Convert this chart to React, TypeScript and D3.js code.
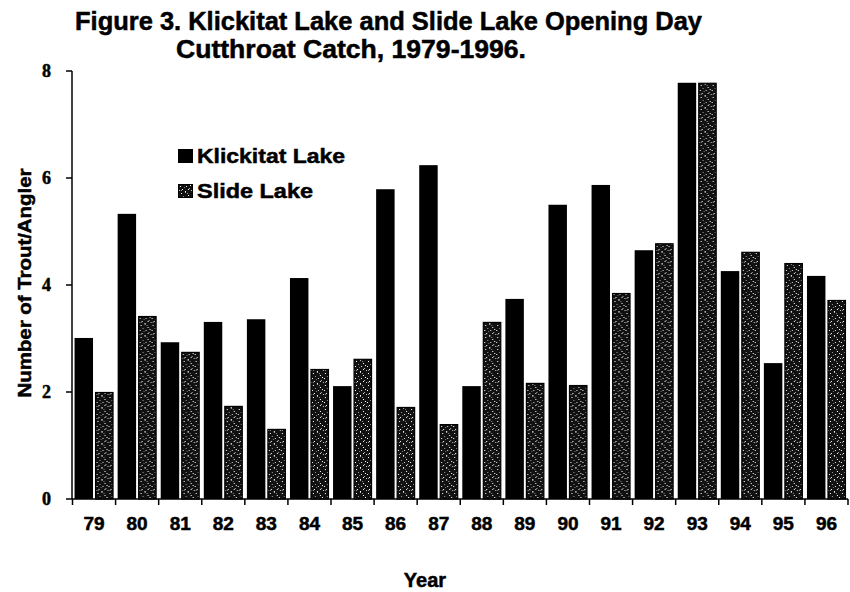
import React from "react";
import * as d3 from "d3";

const years = ["79", "80", "81", "82", "83", "84", "85", "86", "87", "88", "89", "90", "91", "92", "93", "94", "95", "96"];
const klickitat = [3.01, 5.33, 2.93, 3.31, 3.36, 4.13, 2.11, 5.79, 6.24, 2.11, 3.74, 5.5, 5.87, 4.65, 7.78, 4.26, 2.54, 4.17];
const slide = [2.0, 3.42, 2.75, 1.74, 1.31, 2.43, 2.62, 1.72, 1.4, 3.31, 2.17, 2.13, 3.85, 4.78, 7.78, 4.62, 4.41, 3.72];
const yTicks = [0, 2, 4, 6, 8];
const seriesNames = ["Klickitat Lake", "Slide Lake"];
const titleLines = ["Figure 3. Klickitat Lake and Slide Lake Opening Day", "Cutthroat Catch, 1979-1996."];

// speckle texture for the Slide Lake bars (style only)
const speckles: [number, number, string][] = [
  [1, 1, "#fff"], [5, 0, "#bbb"], [8, 3, "#fff"], [3, 4, "#999"], [0, 6, "#fff"],
  [6, 6, "#ddd"], [9, 8, "#aaa"], [2, 9, "#fff"], [4, 7, "#777"], [7, 1, "#888"],
  [10, 5, "#fff"], [11, 10, "#ccc"], [5, 11, "#fff"], [1, 10, "#999"], [8, 9, "#eee"],
];

export default function App() {
  const W = 850, H = 592;
  const x = d3.scaleBand<string>().domain(years).range([72.5, 848]).padding(0);
  const inner = d3.scaleBand<string>().domain(["K", "S"]).range([0, x.bandwidth()]).paddingInner(0.1).paddingOuter(0.1);
  const y = d3.scaleLinear().domain([0, 8]).range([499, 71]);
  const font = "'Liberation Sans', Arial, Helvetica, sans-serif";
  const serif = "'Liberation Serif', 'Times New Roman', serif";
  const x0 = 72, x1 = 848;
  const heavy = { stroke: "#000", strokeWidth: 0.5 };

  return (
    <svg width={W} height={H} style={{ position: "absolute", left: 0, top: 0, background: "#fff" }}>
      <defs>
        <pattern id="speck" width={12} height={12} patternUnits="userSpaceOnUse">
          <rect width={12} height={12} fill="#111" />
          {speckles.map(([px, py, c], i) => (
            <rect key={i} x={px} y={py} width={1} height={1} fill={c} />
          ))}
        </pattern>
      </defs>

      {/* title */}
      <text x={75} y={30} fontFamily={font} fontWeight="bold" fontSize={25} textLength={627} lengthAdjust="spacingAndGlyphs" {...heavy}>{titleLines[0]}</text>
      <text x={176} y={58} fontFamily={font} fontWeight="bold" fontSize={25} textLength={350} lengthAdjust="spacingAndGlyphs" {...heavy}>{titleLines[1]}</text>

      {/* bars */}
      {years.map((yr, i) => (
        <g key={yr} transform={`translate(${x(yr)},0)`}>
          <rect x={inner("K")} y={y(klickitat[i])} width={inner.bandwidth()} height={y(0) - y(klickitat[i])} fill="#000" />
          <rect x={(inner("S") as number) + 0.5} y={y(slide[i]) + 0.5} width={inner.bandwidth() - 1} height={y(0) - y(slide[i]) - 0.5} fill="url(#speck)" stroke="#000" strokeWidth={1.2} />
        </g>
      ))}

      {/* y axis */}
      <line x1={x0} x2={x0} y1={y(8)} y2={y(0)} stroke="#000" strokeWidth={1.5} />
      {yTicks.map((t) => (
        <g key={t}>
          <line x1={x0 - 6} x2={x0} y1={y(t)} y2={y(t)} stroke="#000" strokeWidth={1.5} />
          <text x={51} y={y(t) + 6} textAnchor="end" fontFamily={serif} fontWeight="bold" fontSize={18} {...heavy}>{t}</text>
        </g>
      ))}

      {/* x axis */}
      <line x1={x0} x2={x1} y1={y(0)} y2={y(0)} stroke="#000" strokeWidth={1.5} />
      {[...years.map((yr) => x(yr) as number), x1].map((px, i) => (
        <line key={i} x1={px} x2={px} y1={y(0)} y2={y(0) + 6} stroke="#000" strokeWidth={1.5} />
      ))}
      {years.map((yr) => (
        <text key={yr} x={(x(yr) as number) + x.bandwidth() / 2} y={530} textAnchor="middle" fontFamily={font} fontWeight="bold" fontSize={19} {...heavy}>{yr}</text>
      ))}

      {/* axis titles */}
      <text x={425} y={587} textAnchor="middle" fontFamily={font} fontWeight="bold" fontSize={20} {...heavy}>Year</text>
      <text transform="translate(31,283) rotate(-90)" textAnchor="middle" fontFamily={font} fontWeight="bold" fontSize={19} textLength={229} lengthAdjust="spacingAndGlyphs" {...heavy}>Number of Trout/Angler</text>

      {/* legend */}
      <rect x={178} y={149} width={15} height={14} fill="#000" />
      <text x={197} y={163} fontFamily={font} fontWeight="bold" fontSize={21} textLength={148} lengthAdjust="spacingAndGlyphs" {...heavy}>{seriesNames[0]}</text>
      <rect x={178.5} y={184.5} width={14} height={13} fill="url(#speck)" stroke="#000" strokeWidth={1} />
      <text x={197} y={198} fontFamily={font} fontWeight="bold" fontSize={21} textLength={116} lengthAdjust="spacingAndGlyphs" {...heavy}>{seriesNames[1]}</text>
    </svg>
  );
}
